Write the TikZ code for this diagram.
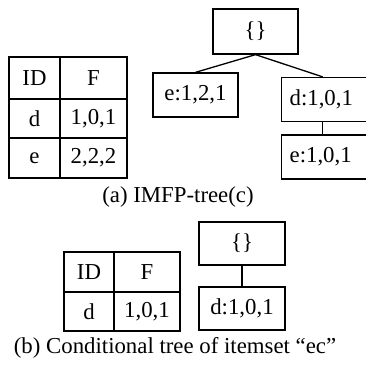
\documentclass[tikz,border=0pt]{standalone}
\usepackage{fontspec}
\setmainfont{Liberation Serif}
\begin{document}
\begin{tikzpicture}[x=1pt,y=-1pt,
  every node/.style={font=\fontsize{22.8}{26}\selectfont, inner sep=0pt},
  cell/.style={draw, line width=2.2pt},
  treebox/.style={draw, line width=1.3pt, minimum width=85pt, minimum height=44pt},
  openbox/.style={draw, line width=1.3pt, minimum height=44pt, text width=76pt,
    inner xsep=8pt, align=left},
  edge/.style={line width=1.3pt},
  caption/.style={}]
\useasboundingbox (0,0) rectangle (366,364);
\clip (0,0) rectangle (366,364);

% ---- (a) item table ----
\node[cell, minimum width=51pt, minimum height=42pt] (aid) at (34.5,78) {ID};
\node[cell, minimum width=67pt, minimum height=42pt] (af)  at (93.5,78) {F};
\node[cell, minimum width=51pt, minimum height=39pt] (ad)  at (34.5,118.5) {d};
\node[cell, minimum width=67pt, minimum height=39pt] (adv) at (93.5,118.5) {1,0,1};
\node[cell, minimum width=51pt, minimum height=40pt] (ae)  at (34.5,158) {e};
\node[cell, minimum width=67pt, minimum height=40pt] (aev) at (93.5,158) {2,2,2};

% ---- (a) IMFP-tree ----
\node[treebox, minimum height=45pt] (aroot) at (255.5,31.5) {\{\}};
\node[treebox] (ae121) at (195.5,95) {e:1,2,1};
\node[openbox, anchor=west] (ad101) at (281,99.5) {d:1,0,1};
\node[openbox, anchor=west] (ae101) at (281,157) {e:1,0,1};
\draw[edge] (aroot.south) -- (ae121.north);
\draw[edge] (aroot.south) -- ([xshift=-5pt]ad101.north);
\draw[edge] ([xshift=-5pt]ad101.south) -- ([xshift=-5pt]ae101.north);

\node (capa) at (178,197) {(a) IMFP-tree(c)};

% ---- (b) conditional table ----
\node[cell, minimum width=50pt, minimum height=40pt] (bid) at (89,272) {ID};
\node[cell, minimum width=66pt, minimum height=40pt] (bf)  at (147,272) {F};
\node[cell, minimum width=50pt, minimum height=39pt] (bd)  at (89,311.5) {d};
\node[cell, minimum width=66pt, minimum height=39pt] (bdv) at (147,311.5) {1,0,1};

% ---- (b) conditional tree ----
\node[treebox, minimum width=86pt, minimum height=43pt] (broot) at (242,243.5) {\{\}};
\node[treebox, minimum width=86pt, minimum height=43pt] (bd101) at (242,308.5) {d:1,0,1};
\draw[edge] (broot.south) -- (bd101.north);

\node (capb) at (175,348) {(b) Conditional tree of itemset “ec”};
\end{tikzpicture}
\end{document}
